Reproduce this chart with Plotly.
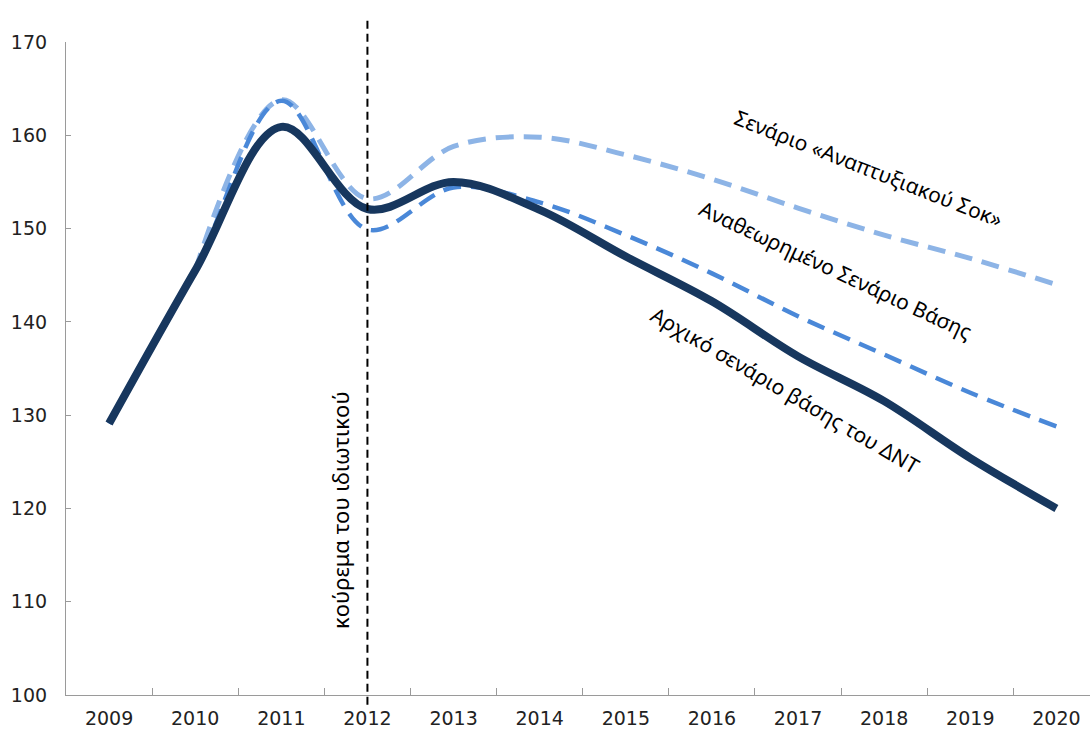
import plotly.graph_objects as go

years = ["2009", "2010", "2011", "2012", "2013", "2014", "2015", "2016", "2017", "2018", "2019", "2020"]
idx = list(range(len(years)))

# Initial IMF baseline scenario
imf_base = [129.1, 145.5, 160.9, 152.1, 155.0, 152.0, 147.0, 142.2, 136.3, 131.5, 125.4, 120.0]
# Revised baseline scenario
revised_base = [129.1, 145.5, 163.7, 149.9, 154.4, 152.8, 149.3, 145.2, 140.6, 136.5, 132.4, 128.8]
# Growth shock scenario (starts 2010)
shock_years_idx = idx[1:]
growth_shock = [145.5, 163.8, 153.2, 158.8, 159.8, 157.9, 155.3, 152.2, 149.3, 146.8, 144.0]

haircut_idx = 3
labels = {
    "shock": "Σενάριο «Αναπτυξιακού Σοκ»",
    "revised": "Αναθεωρημένο Σενάριο Βάσης",
    "imf": "Αρχικό σενάριο βάσης του ΔΝΤ",
    "haircut": "κούρεμα του ιδιωτικού",
}

fig = go.Figure()
fig.add_trace(go.Scatter(x=shock_years_idx, y=growth_shock, mode="lines",
                         line=dict(color="#8DB4E6", width=5, dash="18px,10px", shape="spline", smoothing=1),
                         hoverinfo="skip", showlegend=False))
fig.add_trace(go.Scatter(x=idx, y=revised_base, mode="lines",
                         line=dict(color="#4A88D8", width=4.5, dash="18px,10px", shape="spline", smoothing=1),
                         hoverinfo="skip", showlegend=False))
fig.add_trace(go.Scatter(x=idx, y=imf_base, mode="lines",
                         line=dict(color="#17375E", width=8, shape="spline", smoothing=1),
                         hoverinfo="skip", showlegend=False))

# vertical dashed line at the haircut
fig.add_shape(type="line", xref="x", yref="paper", x0=haircut_idx, x1=haircut_idx, y0=-0.015, y1=1.04,
              line=dict(color="black", width=2, dash="8px,5px"))

font_txt = dict(family="Noto Sans, Open Sans, sans-serif", size=21, color="black")


def px_to_paper(px, py):
    return (px - 66) / 1024, 1 - (py - 42) / 653


hx, hy = px_to_paper(340, 510)
fig.add_annotation(x=hx, y=hy, xref="paper", yref="paper", text=labels["haircut"],
                   textangle=-90, showarrow=False, font=dict(font_txt, size=22),
                   xanchor="center", yanchor="middle")
for key, (cx, cy, ang) in {"shock": (868, 168, 21.3), "revised": (836, 270, 25),
                           "imf": (785, 390, 30.4)}.items():
    ax, ay = px_to_paper(cx, cy)
    fig.add_annotation(xref="paper", yref="paper", x=ax, y=ay, text=labels[key], textangle=ang,
                       showarrow=False, font=font_txt, xanchor="center", yanchor="middle")

axis_font = dict(family="DejaVu Sans, Verdana, sans-serif", size=19, color="#222222")
fig.update_xaxes(range=[-0.5, 11.39], tickmode="array", tickvals=idx, ticktext=years,
                 ticks="", showline=True, linecolor="#9a9a9a", linewidth=1.2, showgrid=False,
                 zeroline=False, tickfont=axis_font, ticklabelstandoff=6,
                 minor=dict(tickmode="array", tickvals=[i + 0.5 for i in idx[:-1]],
                            ticks="inside", ticklen=7, tickcolor="#9a9a9a", tickwidth=1, showgrid=False))
fig.update_yaxes(range=[100, 170], tickmode="array", tickvals=[100, 110, 120, 130, 140, 150, 160, 170],
                 ticks="inside", ticklen=5, tickcolor="#9a9a9a", showline=True, linecolor="#9a9a9a",
                 linewidth=1.2, showgrid=False, zeroline=False, tickfont=axis_font, ticklabelstandoff=14)

fig.update_layout(width=1090, height=729, margin=dict(l=66, r=0, t=42, b=34),
                  plot_bgcolor="white", paper_bgcolor="white", showlegend=False)

fig.write_html("out.html")
